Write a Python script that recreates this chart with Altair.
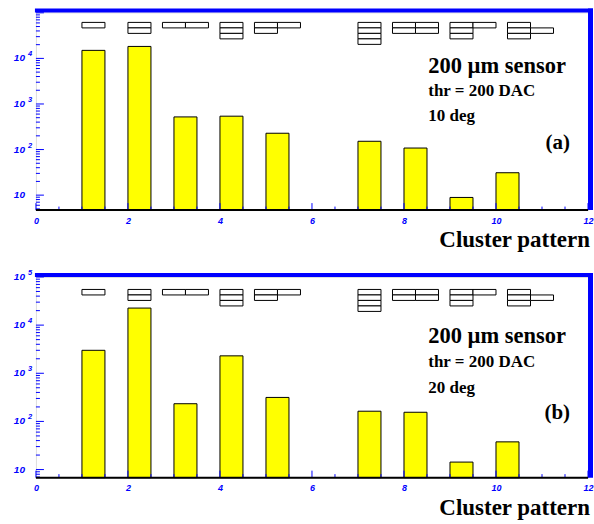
import altair as alt
import pandas as pd

# Cluster-pattern occupancy for a 200 um sensor at two incidence angles
patterns = [1, 2, 3, 4, 5, 7, 8, 9, 10]
counts_10deg = [15000, 18300, 520, 540, 228, 152, 108, 8.9, 31]
counts_20deg = [3000, 22600, 233, 2300, 315, 163, 155, 14.3, 37.6]

# Pixel layout of each cluster pattern: left edge (x units) and (column, row) cells
icon_left = [1.0, 2.0, 2.75, 4.0, 4.75, 7.0, 7.75, 9.0, 10.25]
icon_cells = [
    [(0, 0)],
    [(0, 0), (0, 1)],
    [(0, 0), (1, 0)],
    [(0, 0), (0, 1), (0, 2)],
    [(0, 0), (1, 0), (0, 1)],
    [(0, 0), (0, 1), (0, 2), (0, 3)],
    [(0, 0), (1, 0), (0, 1), (1, 1)],
    [(0, 0), (1, 0), (0, 1), (0, 2)],
    [(0, 0), (0, 1), (1, 1), (0, 2)],
]

x_labels = [0, 2, 4, 6, 8, 10, 12]
BAR_W = 0.5
CELL_W = 0.5
CELL_H = 5.5
W = 553
BLUE = "#0000ff"

icons = pd.DataFrame(
    [
        {"pattern": p, "x0": x0, "col": c, "row": r}
        for p, x0, cells in zip(patterns, icon_left, icon_cells)
        for c, r in cells
    ]
)

xscale = alt.Scale(domain=[0, 12], nice=False, zero=False)

x_axis = alt.Axis(
    values=x_labels,
    format="d",
    ticks=False,
    domain=False,
    grid=False,
    labelFlush=False,
    labelColor=BLUE,
    labelFont="Liberation Sans",
    labelFontStyle="italic",
    labelFontWeight="bold",
    labelFontSize=9,
    labelPadding=6,
    title=None,
)


def panel(counts, lo, hi, H, exponents, icon_top, tag, angle, txt_y):
    yscale = alt.Scale(type="log", domain=[lo, hi], nice=False)
    bars = pd.DataFrame({"start": patterns, "count": counts})
    bar = (
        alt.Chart(bars)
        .transform_calculate(end=f"datum.start + {BAR_W}", base=str(lo))
        .mark_rect(fill="#ffff00", stroke="black", strokeWidth=1)
        .encode(
            x=alt.X("start:Q", scale=xscale, axis=x_axis),
            x2="end:Q",
            y=alt.Y("count:Q", scale=yscale, axis=None),
            y2="base:Q",
        )
    )

    # inward tick marks
    xt_major = pd.DataFrame({"start": x_labels})
    xt_minor = pd.DataFrame({"start": [i * 0.5 for i in range(25) if (i * 0.5) % 2 != 0]})
    xmaj = alt.Chart(xt_major).mark_rule(color=BLUE, strokeWidth=1).encode(
        x=alt.X("start:Q", scale=xscale, axis=x_axis), y=alt.value(H), y2=alt.value(H - 7)
    )
    xmin = alt.Chart(xt_minor).mark_rule(color=BLUE, strokeWidth=1).encode(
        x=alt.X("start:Q", scale=xscale, axis=x_axis), y=alt.value(H), y2=alt.value(H - 3.5)
    )
    dec = [10 ** k for k in range(0, 6) if lo <= 10 ** k <= hi]
    minors = [m * 10 ** k for k in range(0, 6) for m in range(2, 10) if lo <= m * 10 ** k <= hi]
    ymaj = alt.Chart(pd.DataFrame({"count": dec})).mark_rule(color=BLUE, strokeWidth=1).encode(
        y=alt.Y("count:Q", scale=yscale, axis=None), x=alt.value(0), x2=alt.value(8)
    )
    ymin = alt.Chart(pd.DataFrame({"count": minors})).mark_rule(color=BLUE, strokeWidth=1).encode(
        y=alt.Y("count:Q", scale=yscale, axis=None), x=alt.value(0), x2=alt.value(4)
    )

    # decade labels written as 10 with a raised exponent
    ylab = pd.DataFrame(
        {"count": [10 ** e for e in exponents], "exp": ["" if e == 1 else str(e) for e in exponents]}
    )
    ybase = alt.Chart(ylab).mark_text(
        text="10", font="Liberation Sans", fontStyle="italic", fontWeight="bold",
        fontSize=10, color=BLUE, align="right", baseline="middle",
    ).encode(y=alt.Y("count:Q", scale=yscale, axis=None), x=alt.value(-11))
    yexp = alt.Chart(ylab).mark_text(
        font="Liberation Sans", fontStyle="italic", fontWeight="bold",
        fontSize=7.5, color=BLUE, align="left", baseline="middle", dy=-4,
    ).encode(y=alt.Y("count:Q", scale=yscale, axis=None), x=alt.value(-8), text="exp:N")

    data_layers = alt.layer(bar, xmin, xmaj, ymin, ymaj, ybase, yexp)

    # pattern sketches above the bars, rows stacked downward from the frame top
    icon = (
        alt.Chart(icons)
        .transform_calculate(
            ix=f"datum.x0 + datum.col * {CELL_W}",
            ix2=f"datum.x0 + (datum.col + 1) * {CELL_W}",
            py=f"{icon_top} + datum.row * {CELL_H}",
            py2=f"{icon_top} + (datum.row + 1) * {CELL_H}",
        )
        .mark_rect(fill="white", stroke="black", strokeWidth=1)
        .encode(
            x=alt.X("ix:Q", scale=xscale, axis=x_axis),
            x2="ix2:Q",
            y=alt.Y("py:Q", scale=alt.Scale(domain=[0, H], reverse=True, nice=False, zero=False), axis=None),
            y2="py2:Q",
        )
    )

    one = pd.DataFrame({"a": [0]})
    band_top = alt.Chart(one).mark_rect(fill=BLUE).encode(
        x=alt.value(-1), x2=alt.value(W + 5), y=alt.value(-4), y2=alt.value(0)
    )
    band_right = alt.Chart(one).mark_rect(fill=BLUE).encode(
        x=alt.value(W), x2=alt.value(W + 5), y=alt.value(-4), y2=alt.value(H)
    )
    bottom = alt.Chart(one).mark_rule(color="black", strokeWidth=2).encode(
        x=alt.value(0), x2=alt.value(W), y=alt.value(H)
    )

    def label(text, size, x, y, align="left"):
        return alt.Chart(one).mark_text(
            text=text,
            font="Liberation Serif",
            fontWeight="bold",
            fontSize=size,
            align=align,
            baseline="alphabetic",
            color="black",
        ).encode(x=alt.value(x), y=alt.value(y))

    texts = [
        label("200 µm sensor", 22.5, 393, txt_y[0]),
        label("thr = 200 DAC", 17, 393, txt_y[1]),
        label(angle, 17, 393, txt_y[2]),
        label(tag, 21, 535, txt_y[3], align="right"),
        label("Cluster pattern", 23, W + 2, H + 37, align="right"),
    ]

    return (
        alt.layer(data_layers, icon, bottom, band_top, band_right, *texts)
        .resolve_scale(y="independent")
        .properties(width=W, height=H)
    )


top = panel(counts_10deg, 4.7, 1.02e5, 198, [1, 2, 3, 4], 10,
            "(a)", "10 deg", [61, 84, 109, 137])
bot = panel(counts_20deg, 6.8, 1.0e5, 201, [1, 2, 3, 4, 5], 12.5,
            "(b)", "20 deg", [66, 90, 116, 142])

chart = (
    alt.vconcat(top, bot, spacing=67, bounds="flush")
    .properties(padding={"left": 13, "top": 7, "right": 0, "bottom": 0})
    .configure_view(stroke="black", strokeWidth=1)
    .configure(background="white")
)

chart.save("out.html", embed_options={"renderer": "svg", "actions": False})
